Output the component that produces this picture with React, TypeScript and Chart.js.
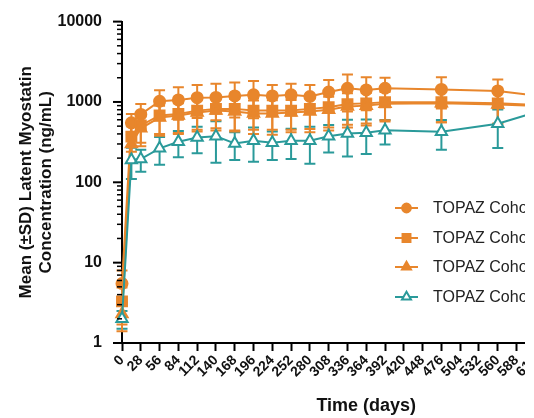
import React, { useEffect, useRef } from 'react';
import { Chart, registerables } from 'chart.js';
Chart.register(...registerables);

// ---- data ----
const days = [0, 14, 28, 56, 84, 112, 140, 168, 196, 224, 252, 280, 308, 336, 364, 392, 476, 560, 644];

const seriesNames = ['TOPAZ Cohort 1', 'TOPAZ Cohort 2', 'TOPAZ Cohort 3', 'TOPAZ Cohort 4'];

const cohort1Mean = [5.5, 550, 700, 1020, 1060, 1130, 1140, 1190, 1225, 1190, 1225, 1170, 1330, 1480, 1410, 1480, 1430, 1370, 1130];
const cohort1Sd = [2.5, 160, 240, 380, 460, 500, 550, 550, 600, 430, 460, 450, 540, 720, 620, 520, 600, 530, 450];

const cohort2Mean = [3.3, 370, 510, 680, 710, 780, 820, 820, 780, 780, 780, 820, 860, 940, 960, 990, 990, 960, 900];
const cohort2Sd = [1.6, 130, 200, 280, 300, 330, 350, 380, 330, 330, 330, 360, 380, 420, 420, 400, 430, 420, 380];

const cohort3Mean = [2.3, 300, 470, 640, 680, 740, 780, 760, 720, 720, 740, 760, 800, 880, 900, 950, 960, 930, 880];
const cohort3Sd = [0.9, 120, 190, 260, 280, 310, 340, 330, 320, 330, 320, 340, 360, 400, 390, 380, 400, 400, 360];

const cohort4Mean = [2.0, 190, 195, 265, 320, 360, 375, 305, 330, 310, 330, 330, 375, 405, 415, 445, 425, 537, 870];
const cohort4Sd = [0.5, 80, 60, 100, 115, 130, 200, 115, 150, 120, 135, 160, 140, 195, 190, 150, 170, 270, 300];

const xMin = 0;
const xMax = 728;
const xStep = 28;
const yMin = 1;
const yMax = 10000;
const yMajorTicks = [1, 10, 100, 1000, 10000];

const ORANGE = '#E8862C';
const TEAL = '#2A9A9A';

const means = [cohort1Mean, cohort2Mean, cohort3Mean, cohort4Mean];
const sds = [cohort1Sd, cohort2Sd, cohort3Sd, cohort4Sd];
const colors = [ORANGE, ORANGE, ORANGE, TEAL];
const styles = ['circle', 'rect', 'triangle', 'triangle'];
const radii = [5.5, 7, 6.5, 6.5];
const fills = [ORANGE, ORANGE, ORANGE, '#ffffff'];

const FONT = '"Liberation Sans", Arial, sans-serif';

function drawMarker(ctx: CanvasRenderingContext2D, style: string, x: number, y: number, r: number, fill: string, stroke: string) {
  ctx.save();
  ctx.beginPath();
  if (style === 'circle') {
    ctx.arc(x, y, r, 0, Math.PI * 2);
  } else if (style === 'rect') {
    const s = Math.SQRT1_2 * r;
    ctx.rect(x - s, y - s, 2 * s, 2 * s);
  } else {
    let rad = 0;
    ctx.moveTo(x + Math.sin(rad) * r, y - Math.cos(rad) * r);
    rad += (2 * Math.PI) / 3;
    ctx.lineTo(x + Math.sin(rad) * r, y - Math.cos(rad) * r);
    rad += (2 * Math.PI) / 3;
    ctx.lineTo(x + Math.sin(rad) * r, y - Math.cos(rad) * r);
    ctx.closePath();
  }
  ctx.fillStyle = fill;
  ctx.fill();
  ctx.lineWidth = 2;
  ctx.strokeStyle = stroke;
  ctx.stroke();
  ctx.restore();
}

const errorBarPlugin = {
  id: 'errorBars',
  beforeDatasetsDraw(chart: any) {
    const ctx = chart.ctx as CanvasRenderingContext2D;
    const yScale = chart.scales.y;
    const area = chart.chartArea;
    ctx.save();
    ctx.lineWidth = 2;
    for (let d = chart.data.datasets.length - 1; d >= 0; d--) {
      const meta = chart.getDatasetMeta(d);
      ctx.strokeStyle = colors[d];
      meta.data.forEach((pt: any, i: number) => {
        const m = means[d][i];
        const s = sds[d][i];
        const yTop = yScale.getPixelForValue(m + s);
        const lo = m - s;
        const yBot = lo > 0 ? Math.min(yScale.getPixelForValue(lo), area.bottom) : area.bottom;
        const x = pt.x;
        const cap = 5.5;
        ctx.beginPath();
        ctx.moveTo(x, yTop);
        ctx.lineTo(x, yBot);
        ctx.moveTo(x - cap, yTop);
        ctx.lineTo(x + cap, yTop);
        if (lo > 0 && yBot < area.bottom) {
          ctx.moveTo(x - cap, yBot);
          ctx.lineTo(x + cap, yBot);
        }
        ctx.stroke();
      });
    }
    ctx.restore();
  },
};

const axisDecorPlugin = {
  id: 'axisDecor',
  afterDraw(chart: any) {
    const ctx = chart.ctx as CanvasRenderingContext2D;
    const yScale = chart.scales.y;
    const left = chart.chartArea.left;
    ctx.save();
    ctx.strokeStyle = '#000';
    for (let dec = yMin; dec <= yMax; dec *= 10) {
      for (let m = 1; m <= 9; m++) {
        const v = dec * m;
        if (v > yMax) break;
        const major = m === 1;
        const y = yScale.getPixelForValue(v);
        ctx.lineWidth = major ? 2 : 1.5;
        ctx.beginPath();
        ctx.moveTo(left - (major ? 9 : 5), y);
        ctx.lineTo(left, y);
        ctx.stroke();
      }
    }
    // legend
    const lx0 = 395;
    const lx1 = 418;
    const ys = [208, 238, 267, 297];
    ctx.font = '16px ' + FONT;
    ctx.textBaseline = 'middle';
    ctx.textAlign = 'left';
    seriesNames.forEach((name, i) => {
      const y = ys[i];
      ctx.strokeStyle = colors[i];
      ctx.lineWidth = 2;
      ctx.beginPath();
      ctx.moveTo(lx0, y);
      ctx.lineTo(lx1, y);
      ctx.stroke();
      drawMarker(ctx, styles[i], (lx0 + lx1) / 2, y, radii[i] * 0.8, fills[i], colors[i]);
      ctx.fillStyle = '#222';
      ctx.fillText(name, 433, y + 1);
    });
    ctx.restore();
  },
};

export default function App() {
  const canvasRef = useRef<HTMLCanvasElement | null>(null);

  useEffect(() => {
    const canvas = canvasRef.current;
    if (!canvas) return;
    const datasets = seriesNames.map((name, i) => ({
      label: name,
      data: days.map((d, j) => ({ x: d, y: means[i][j] })),
      borderColor: colors[i],
      backgroundColor: fills[i],
      pointBackgroundColor: fills[i],
      pointBorderColor: colors[i],
      pointBorderWidth: 2,
      pointStyle: styles[i] as any,
      pointRadius: radii[i],
      borderWidth: 2,
      tension: 0,
      fill: false,
      clip: false as any,
      order: 3 - i,
    }));

    const chart = new Chart(canvas, {
      type: 'line',
      data: { datasets },
      options: {
        responsive: false,
        animation: false,
        devicePixelRatio: 1,
        layout: { padding: { left: 0, top: 16, right: 19.5, bottom: 0 } },
        plugins: {
          legend: { display: false },
          tooltip: { enabled: false },
        },
        scales: {
          x: {
            type: 'linear',
            min: xMin,
            max: xMax,
            afterFit: (s: any) => { s.height = 87; },
            afterBuildTicks: (s: any) => {
              const t = [];
              for (let v = xMin; v <= xMax; v += xStep) t.push({ value: v });
              s.ticks = t;
            },
            grid: {
              display: true,
              drawOnChartArea: false,
              drawTicks: true,
              tickLength: 8,
              tickWidth: 2,
              tickColor: '#000',
            },
            border: { display: true, color: '#000', width: 2 },
            ticks: {
              autoSkip: false,
              minRotation: 45,
              maxRotation: 45,
              padding: 1,
              color: '#111',
              font: { family: FONT, size: 14, weight: 'bold' },
              callback: (v: any) => String(v),
            },
            title: {
              display: true,
              text: 'Time (days)',
              color: '#111',
              font: { family: FONT, size: 18, weight: 'bold' },
              padding: { top: 0, bottom: 13 },
            },
          },
          y: {
            type: 'logarithmic',
            min: yMin,
            max: yMax,
            afterFit: (s: any) => { s.width = 122; },
            afterBuildTicks: (s: any) => {
              s.ticks = yMajorTicks.map((v) => ({ value: v, major: true }));
            },
            grid: { display: false },
            border: { display: true, color: '#000', width: 2 },
            ticks: {
              autoSkip: false,
              padding: 12,
              color: '#111',
              font: { family: FONT, size: 16, weight: 'bold' },
              callback: (v: any) => String(v),
            },
            title: {
              display: true,
              text: ['Mean (±SD) Latent Myostatin', 'Concentration (ng/mL)'],
              color: '#111',
              font: { family: FONT, size: 17, weight: 'bold', lineHeight: 1.15 },
              padding: { top: 17, bottom: 0 },
            },
          },
        },
      },
      plugins: [errorBarPlugin, axisDecorPlugin],
    });
    return () => chart.destroy();
  }, []);

  return (
    <div style={{ position: 'fixed', left: 0, top: 0, width: 534, height: 418, overflow: 'hidden', background: '#fff' }}>
      <div style={{ width: 525, height: 418, overflow: 'hidden' }}>
        <canvas ref={canvasRef} width={630} height={430} style={{ display: 'block' }} />
      </div>
    </div>
  );
}
